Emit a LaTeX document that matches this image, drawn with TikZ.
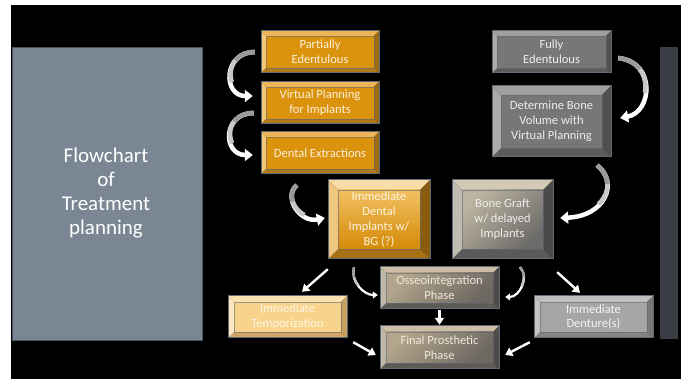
\documentclass[tikz,border=0pt]{standalone}
\usepackage{fontspec}
\setmainfont{Carlito}
\usetikzlibrary{calc,arrows.meta,fit}
% colours
\definecolor{lbox}{HTML}{7A8694}
\definecolor{lboxedge}{HTML}{4A525C}
\definecolor{rbar}{HTML}{3A3E44}
\definecolor{boxedge}{HTML}{5F6A78}
\definecolor{arrA}{HTML}{9A9A9A}
\definecolor{arrB}{HTML}{C8C8C8}
% scheme colours: T top, L left, R right, B bottom, F face (F1/F2 gradient), Xc text
\definecolor{orgTc}{HTML}{EDB555}\definecolor{orgLc}{HTML}{F3C873}
\definecolor{orgRc}{HTML}{9E6A12}\definecolor{orgBc}{HTML}{B07A1A}
\definecolor{orgFc}{HTML}{DB930D}\definecolor{orgXc}{HTML}{FBF0DC}
\definecolor{gryTc}{HTML}{A0A0A0}\definecolor{gryLc}{HTML}{ABABAB}
\definecolor{gryRc}{HTML}{505050}\definecolor{gryBc}{HTML}{5C5C5C}
\definecolor{gryFc}{HTML}{777777}\definecolor{gryXc}{HTML}{EDEDED}
\definecolor{idiTc}{HTML}{F7DDA8}\definecolor{idiLc}{HTML}{EFC680}
\definecolor{idiRc}{HTML}{8A5C10}\definecolor{idiBc}{HTML}{A87214}
\definecolor{idiF1}{HTML}{F2C060}\definecolor{idiF2}{HTML}{D48A08}
\definecolor{idiXc}{HTML}{FDF3E0}
\definecolor{bgTc}{HTML}{D2CAB4}\definecolor{bgLc}{HTML}{C0BCB2}
\definecolor{bgRc}{HTML}{4A4A4A}\definecolor{bgBc}{HTML}{5A5A5A}
\definecolor{bgF1}{HTML}{BCB4A0}\definecolor{bgF2}{HTML}{6E6C6A}
\definecolor{bgXc}{HTML}{EEEEEE}
\definecolor{osTc}{HTML}{CBBEA4}\definecolor{osLc}{HTML}{BFB7A8}
\definecolor{osRc}{HTML}{4E4B48}\definecolor{osBc}{HTML}{5E5A55}
\definecolor{osF1}{HTML}{B3A68C}\definecolor{osF2}{HTML}{6E6862}
\definecolor{osXc}{HTML}{F0E8DC}
\definecolor{tmpTc}{HTML}{FBE2AE}\definecolor{tmpLc}{HTML}{FCE8C2}
\definecolor{tmpRc}{HTML}{C9A05E}\definecolor{tmpBc}{HTML}{D0A565}
\definecolor{tmpFc}{HTML}{F8D38B}\definecolor{tmpXc}{HTML}{FFF6E6}
\definecolor{denTc}{HTML}{BEBEBE}\definecolor{denLc}{HTML}{C4C4C4}
\definecolor{denRc}{HTML}{777777}\definecolor{denBc}{HTML}{858585}
\definecolor{denFc}{HTML}{A6A6A6}\definecolor{denXc}{HTML}{F4F4F4}
\tikzset{
  orgF/.style={fill=orgFc}, gryF/.style={fill=gryFc},
  tmpF/.style={fill=tmpFc}, denF/.style={fill=denFc},
  idiF/.style={top color=idiF1, bottom color=idiF2},
  bgF/.style={left color=bgF1, right color=bgF2, shading angle=45},
  osF/.style={left color=osF1, right color=osF2, shading angle=45},
  boxtext/.style={align=center, inner sep=0pt, font=\fontsize{12.5}{14.8}\selectfont},
  bigtext/.style={align=center, inner sep=0pt, text=white, font=\fontsize{21}{24}\selectfont},
  carr/.style={line width=4.5pt, white, -{Triangle[width=12pt,length=8pt]}},
  carrsmall/.style={line width=2.2pt, white, -{Triangle[width=7pt,length=5pt]}},
  sarr/.style={line width=2.4pt, white, -{Triangle[width=9pt,length=7pt]}},
}
% name, x1, y1, x2, y2, scheme, bevel, text
\newcommand\bevelbox[8]{%
  \coordinate (#1o1) at (#2,#3);
  \coordinate (#1o2) at (#4,#3);
  \coordinate (#1o3) at (#4,#5);
  \coordinate (#1o4) at (#2,#5);
  \coordinate (#1i1) at ($(#1o1)+(#7,#7)$);
  \coordinate (#1i2) at ($(#1o2)+(-#7,#7)$);
  \coordinate (#1i3) at ($(#1o3)+(-#7,-#7)$);
  \coordinate (#1i4) at ($(#1o4)+(#7,-#7)$);
  \fill[#6Tc] (#1o1)--(#1o2)--(#1i2)--(#1i1)--cycle;
  \fill[#6Rc] (#1o2)--(#1o3)--(#1i3)--(#1i2)--cycle;
  \fill[#6Bc] (#1o3)--(#1o4)--(#1i4)--(#1i3)--cycle;
  \fill[#6Lc] (#1o4)--(#1o1)--(#1i1)--(#1i4)--cycle;
  \path[#6F] (#1i1) rectangle (#1i3);
  \draw[boxedge, line width=0.5pt, opacity=0.6] (#1i1) rectangle (#1i3);
  \draw[boxedge, line width=1pt] (#1o1) rectangle (#1o3);
  \node[fit=(#1o1)(#1o3), inner sep=0pt] (#1) {};
  \node[boxtext, text=#6Xc] (#1t) at (#1) {#8};
}
% start, c1 (rel start), c2 (rel end), end, style, len1, len2
\newcommand\carrow[7]{%
  \draw[#5] #1 .. controls #2 and #3 .. #4;
  \draw[#5, arrB, -, dash pattern=on #7 off 2000pt] #1 .. controls #2 and #3 .. #4;
  \draw[#5, arrA, -, dash pattern=on #6 off 2000pt] #1 .. controls #2 and #3 .. #4;
}
\begin{document}
\begin{tikzpicture}[x=1pt,y=-1pt]
\useasboundingbox (0,0) rectangle (686,379);
\fill[white] (0,0) rectangle (686,379);
\fill[black] (11,5) rectangle (681,379);
% left title box and right bar
\node[draw=lboxedge, fill=lbox, line width=1pt, minimum width=190pt, minimum height=293pt,
      inner sep=0pt, anchor=north west] (fc) at (12,47) {};
\node[bigtext] (fct) at (106,193) {Flowchart\\of\\Treatment\\planning};
\node[fill=rbar, minimum width=18pt, minimum height=292pt, inner sep=0pt, anchor=north west] (rb) at (660,47) {};
% boxes
\bevelbox{pe}{261}{31}{379}{73}{org}{5}{Partially\\Edentulous}
\bevelbox{vp}{261}{82}{379}{124}{org}{5}{Virtual Planning\\for Implants}
\bevelbox{de}{261}{132}{379}{174}{org}{5}{Dental Extractions}
\bevelbox{fe}{492}{31}{611}{73}{gry}{5}{Fully\\Edentulous}
\bevelbox{db}{492}{86}{611}{157}{gry}{9}{Determine Bone\\Volume with\\Virtual Planning}
\bevelbox{idi}{328}{180}{430}{259}{idi}{10}{Immediate\\Dental\\Implants w/\\BG (?)}
\bevelbox{bg}{452}{180}{553}{259}{bg}{10}{Bone Graft\\w/ delayed\\Implants}
\bevelbox{os}{380}{267}{499}{309}{os}{6}{Osseointegration\\Phase}
\bevelbox{fp}{380}{326}{499}{369}{os}{6}{Final Prosthetic\\Phase}
\bevelbox{it}{228}{296}{347}{338}{tmp}{6}{Immediate\\Temporization}
\bevelbox{id}{534}{296}{653}{338}{den}{6}{Immediate\\Denture(s)}
% curved arrows
\carrow{($(pe.west)+(-6,0)$)}{+(-32,0)}{+(-30,0)}{($(vp.west)+(-8,-7)$)}{carr}{22pt}{45pt}
\carrow{($(vp.west)+(-7,10)$)}{+(-32,0)}{+(-30,0)}{($(de.west)+(-8,2)$)}{carr}{22pt}{45pt}
\carrow{($(de.south west)+(36,11)$)}{+(-14,12)}{+(-25,5)}{($(idi.west)+(-3,-1.5)$)}{carr}{18pt}{36pt}
\carrow{($(fe.east)+(7,6)$)}{+(38,4)}{+(32,-6)}{($(db.east)+(9,-3.5)$)}{carr}{25pt}{50pt}
\carrow{($(db.south east)+(-14,8)$)}{+(22,18)}{+(45,-2)}{($(bg.east)+(7,-1.5)$)}{carr}{22pt}{45pt}
\carrow{($(idi.south)+(-25,8)$)}{+(-4,14)}{+(-14,0)}{($(os.west)+(-2,7)$)}{carrsmall}{10pt}{20pt}
\carrow{($(bg.south)+(17.5,8)$)}{+(10,10)}{+(14,0)}{($(os.east)+(6,9)$)}{carrsmall}{10pt}{20pt}
% straight arrows
\draw[sarr] ($(idi.south west)+(0,10)$) -- ($(it.north)+(14.5,-4)$);
\draw[sarr] ($(os.south)+(0,1)$) -- ($(fp.north)+(0,-1)$);
\draw[sarr] ($(it.south east)+(6,4)$) -- ($(fp.west)+(-4,7.5)$);
\draw[sarr] ($(bg.south east)+(4,13)$) -- ($(id.north)+(-13.5,-3)$);
\draw[sarr] ($(id.south west)+(-4,4)$) -- ($(fp.east)+(6,7.5)$);
\end{tikzpicture}
\end{document}
